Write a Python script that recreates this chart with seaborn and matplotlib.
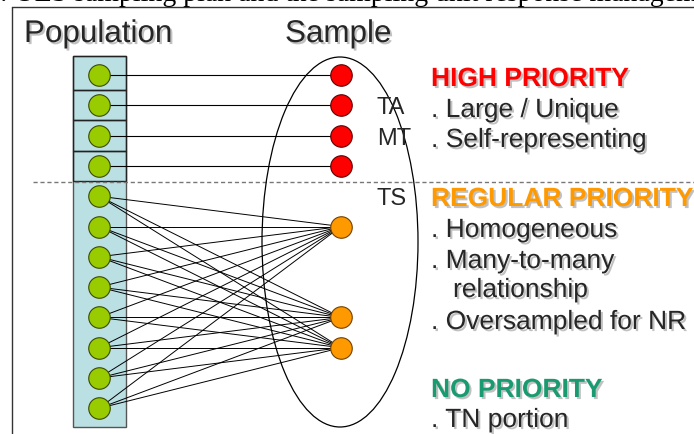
import pandas as pd
import matplotlib.pyplot as plt
import matplotlib.patheffects as pe
from matplotlib.patches import Rectangle, Ellipse
import seaborn as sns

# units in population (slot index), and which sample slot they go to
pop_units = list(range(12))
high_units = [0, 1, 2, 3]          # self-representing, one-to-one
regular_units = [4, 5, 6, 7, 8, 9, 10, 11]
regular_sample = [5, 8, 9]          # sample slots for the regular priority units
strata_labels = ['TA', 'MT', 'TS']
strata_slots = [1, 2, 4]

high_text = ['. Large / Unique', '. Self-representing']
regular_text = ['. Homogeneous', '. Many-to-many', 'relationship', '. Oversampled for NR']
no_text = ['. TN portion']

sns.set_style('white')
plt.rcParams['font.family'] = ['Liberation Sans', 'DejaVu Sans']

fig = plt.figure(figsize=(6.94, 4.35), dpi=100)
ax = fig.add_axes([0, 0, 1, 1])

def slot_y(i):
    return 76 + i * 30.3

col_x = {'Population': 99, 'Sample': 341}
shadow = [pe.SimplePatchShadow(offset=(1.5, -1.5), shadow_rgbFace='#999999', alpha=0.6), pe.Normal()]

# title cut at top
ax.text(-14, 1, '3: OES sampling plan and the sampling unit response management',
        family='Liberation Serif', fontsize=20, va='baseline', ha='left', color='black')

# frame
ax.plot([12, 694], [8, 8], color='#333333', lw=1)
ax.plot([12, 12], [8, 435], color='#333333', lw=1)

ax.text(24, 43, 'Population', fontsize=22.6, va='baseline', path_effects=shadow)
ax.text(285, 43, 'Sample', fontsize=22.6, va='baseline', path_effects=shadow)

# population column
ax.add_patch(Rectangle((73, 57), 53, 371, facecolor='#BBE0E3', edgecolor='#555555', lw=1, zorder=1))
bounds = [57] + [(slot_y(i) + slot_y(i + 1)) / 2 for i in high_units]
for a, b in zip(bounds[:-1], bounds[1:]):
    ax.add_patch(Rectangle((73, a), 53, b - a, facecolor='none', edgecolor='#222222', lw=1, zorder=1))

# dashed separator
ax.plot([33, 694], [183, 183], color='#777777', lw=1, ls=(0, (3, 2)), zorder=1)

# sample ellipse
ax.add_patch(Ellipse((340, 243), 156, 370, facecolor='none', edgecolor='black', lw=0.9, zorder=2))

# links
for u in high_units:
    ax.plot([col_x['Population'], col_x['Sample']], [slot_y(u), slot_y(u)], color='black', lw=0.8, zorder=3)
for u in regular_units:
    for s in regular_sample:
        ax.plot([col_x['Population'], col_x['Sample']], [slot_y(u), slot_y(s)], color='black', lw=0.7, zorder=3)

pop = pd.DataFrame({'x': col_x['Population'], 'y': [slot_y(i) for i in pop_units]})
red = pd.DataFrame({'x': col_x['Sample'], 'y': [slot_y(i) for i in high_units]})
orange = pd.DataFrame({'x': col_x['Sample'], 'y': [slot_y(i) for i in regular_sample]})
sns.scatterplot(data=pop, x='x', y='y', ax=ax, s=240, color='#99CC00', edgecolor='#3A4A00', linewidth=0.8, zorder=5)
sns.scatterplot(data=red, x='x', y='y', ax=ax, s=240, color='#FF0000', edgecolor='#600000', linewidth=0.8, zorder=5)
sns.scatterplot(data=orange, x='x', y='y', ax=ax, s=240, color='#FF9900', edgecolor='#704000', linewidth=0.8, zorder=5)
ax.set_xlim(0, 694)
ax.set_ylim(435, 0)
ax.axis('off')

for lab, s in zip(strata_labels, strata_slots):
    ax.text(377, slot_y(s) + 8, lab, fontsize=17, va='baseline', zorder=6)

# priority text
ax.text(431, 87, 'HIGH PRIORITY', fontsize=19, weight='bold', color='#FF0000', va='baseline', path_effects=shadow)
for t, yb in zip(high_text, [118, 148]):
    ax.text(431, yb, t, fontsize=19, va='baseline', path_effects=shadow)
ax.text(431, 207, 'REGULAR PRIORITY', fontsize=19, weight='bold', color='#FF9900', va='baseline', path_effects=shadow)
for t, yb in zip(regular_text, [238, 269, 298, 330]):
    ax.text(453 if t == 'relationship' else 431, yb, t, fontsize=19, va='baseline', path_effects=shadow)
ax.text(431, 398, 'NO PRIORITY', fontsize=19, weight='bold', color='#1A9A70', va='baseline', path_effects=shadow)
for t, yb in zip(no_text, [428]):
    ax.text(431, yb, t, fontsize=19, va='baseline', path_effects=shadow)

fig.savefig('out.png', dpi=100)
